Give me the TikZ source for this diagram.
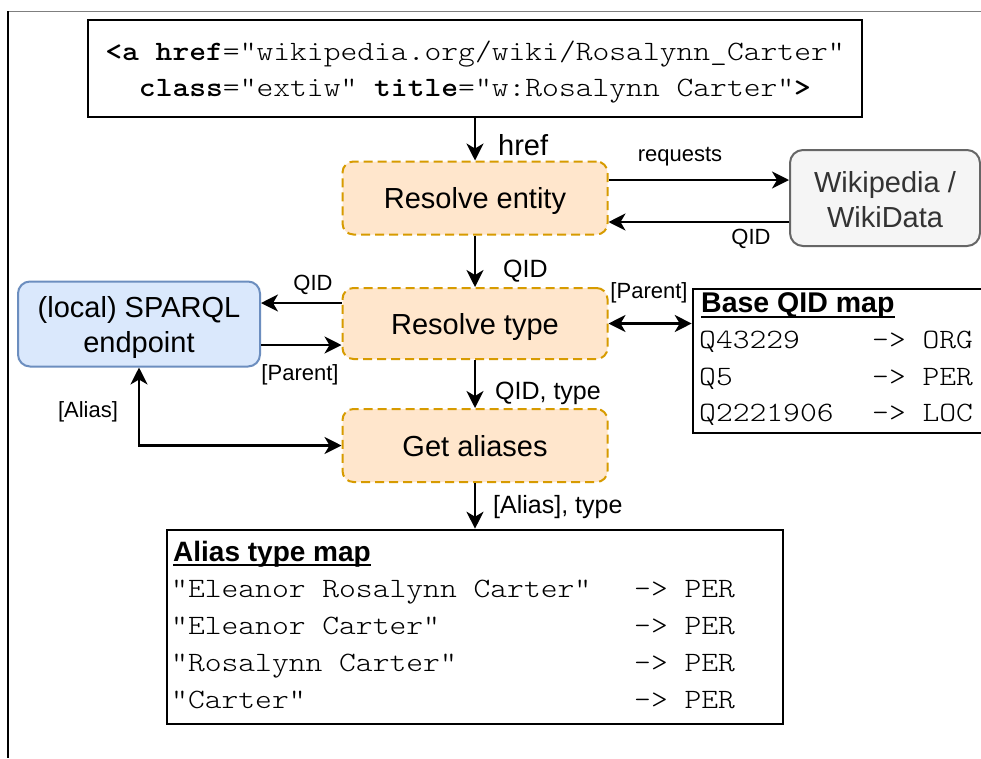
\documentclass[tikz,border=0pt]{standalone}
\usepackage{fontspec}
\setmainfont{Liberation Sans}
\setmonofont[FakeStretch=1.143]{Latin Modern Mono Light}
\usetikzlibrary{arrows.meta}
\definecolor{ofill}{HTML}{FFE6CC}
\definecolor{ostroke}{HTML}{D79B00}
\definecolor{bfill}{HTML}{DAE8FC}
\definecolor{bstroke}{HTML}{6C8EBF}
\definecolor{gfill}{HTML}{F5F5F5}
\definecolor{gstroke}{HTML}{666666}
\definecolor{gtext}{HTML}{333333}
\definecolor{frameg}{HTML}{7F7F7F}
\tikzset{
  arr/.style={-{Stealth[length=17pt,width=17pt,inset=5pt]}, line width=2.2pt},
  darr/.style={{Stealth[length=17pt,width=17pt,inset=5pt]}-{Stealth[length=17pt,width=17pt,inset=5pt]}, line width=2.2pt},
  proc/.style={draw=ostroke, fill=ofill, dash pattern=on 9pt off 5pt, line width=2pt,
    rounded corners=11pt, minimum width=265pt, minimum height=73pt, inner sep=0pt},
  ext/.style={rounded corners=13pt, line width=2pt, inner sep=0pt},
  boxtext/.style={inner sep=0pt, align=center, font=\fontsize{29}{35}\selectfont},
  mapbox/.style={draw=black, line width=2.6pt, inner sep=0pt},
  lbl/.style={inner sep=0pt, font=\fontsize{22}{26}\selectfont},
  lblm/.style={inner sep=0pt, font=\fontsize{25}{30}\selectfont},
  lblh/.style={inner sep=0pt, font=\fontsize{29}{34}\selectfont},
  ttl/.style={inner sep=0pt, anchor=base west, font=\bfseries\fontsize{28.5}{34}\selectfont},
  row/.style={inner sep=0pt, anchor=base west, font=\ttfamily\fontsize{28}{34}\selectfont},
}
\begin{document}
\begin{tikzpicture}[x=1pt,y=-1pt]
\clip (0,0) rectangle (981,758);
\fill[white] (0,0) rectangle (981,758);
% frame
\draw[frameg, line width=1.6pt] (8,11.5) -- (981,11.5);
\draw[black, line width=1.6pt] (8,11) -- (8,758);

% nodes
\node[mapbox, minimum width=774pt, minimum height=97pt] (top) at (475,68.5) {};
\node[inner sep=0pt, align=center, font=\ttfamily\fontsize{28}{36}\selectfont] (toptext) at (475,72)
  {\textbf{<a href}="wikipedia.org/wiki/Rosalynn\_Carter"\\
   \textbf{class}="extiw" \textbf{title}="w:Rosalynn Carter"\textbf{>}};

\node[proc] (resent) at (475,198) {};
\node[boxtext, anchor=base] (resentt) at (475,208.5) {Resolve entity};
\node[proc, minimum height=71pt] (restype) at (475,323.5) {};
\node[boxtext, anchor=base] (restypet) at (475,334) {Resolve type};
\node[proc] (getal) at (475,445.5) {};
\node[boxtext, anchor=base] (getalt) at (475,456) {Get aliases};

\node[ext, draw=gstroke, fill=gfill, minimum width=190pt, minimum height=96pt]
  (wiki) at (885,198) {};
\node[boxtext, text=gtext] (wikit) at (885,200) {Wikipedia /\\WikiData};
\node[ext, draw=bstroke, fill=bfill, rounded corners=12pt, minimum width=242pt, minimum height=85pt]
  (sparql) at (139,324) {};
\node[boxtext] (sparqlt) at (139,327) {(local) SPARQL\\endpoint};

\node[mapbox, minimum width=310pt, minimum height=144pt] (base) at (848,361) {};
\node[ttl] (basettl) at (701,312) {Base QID map};
\draw[line width=2pt] ([yshift=-5pt]basettl.base west) -- ([yshift=-5pt]basettl.base east);
\node[row] (b1) at (699,348) {Q43229};
\node[row] (b1v) at (872,348) {-> ORG};
\node[row] (b2) at (699,385) {Q5};
\node[row] (b2v) at (872,385) {-> PER};
\node[row] (b3) at (699,421) {Q2221906};
\node[row] (b3v) at (872,421) {-> LOC};

\node[mapbox, minimum width=616pt, minimum height=194pt] (alias) at (475,627) {};
\node[ttl, font=\bfseries\fontsize{28}{34}\selectfont] (aliasttl) at (173,561) {Alias type map};
\draw[line width=2pt] ([yshift=-4pt]aliasttl.base west) -- ([yshift=-4pt]aliasttl.base east);
\node[row] (a1) at (171,597) {"Eleanor Rosalynn Carter"};
\node[row] (a1v) at (634,597) {-> PER};
\node[row] (a2) at (171,634) {"Eleanor Carter"};
\node[row] (a2v) at (634,634) {-> PER};
\node[row] (a3) at (171,671) {"Rosalynn Carter"};
\node[row] (a3v) at (634,671) {-> PER};
\node[row] (a4) at (171,708) {"Carter"};
\node[row] (a4v) at (634,708) {-> PER};

% connectors
\draw[arr] (top.south) -- (resent.north);
\node[lblh, anchor=west] (lhref) at (498,145) {href};

\draw[arr] (resent.east|-0,180) -- (wiki.west|-0,180);
\node[lbl] (lreq) at (680,157) {requests};
\draw[arr] (wiki.west|-0,222) -- (resent.east|-0,222);
\node[lbl] (lqid1) at (751,239) {QID};

\draw[arr] (resent.south) -- (restype.north);
\node[lblm, anchor=west] (lqid2) at (503,271) {QID};

\draw[arr] (restype.west|-0,303) -- (sparql.east|-0,303);
\node[lbl] (lqid3) at (313,285) {QID};
\draw[arr] (sparql.east|-0,345) -- (restype.west|-0,345);
\node[lbl] (lpar1) at (300,375) {[Parent]};

\draw[darr] (restype.east) -- (base.west|-restype.east);
\node[lbl] (lpar2) at (649,293) {[Parent]};

\draw[arr] (restype.south) -- (getal.north);
\node[lblm, anchor=west] (lqt) at (495,393) {QID, type};

\draw[darr] (sparql.south) |- (getal.west);
\node[lbl] (lalias) at (88,412) {[Alias]};

\draw[arr] (getal.south) -- (alias.north);
\node[lblm, anchor=west] (lat) at (493,507) {[Alias], type};
\end{tikzpicture}
\end{document}
